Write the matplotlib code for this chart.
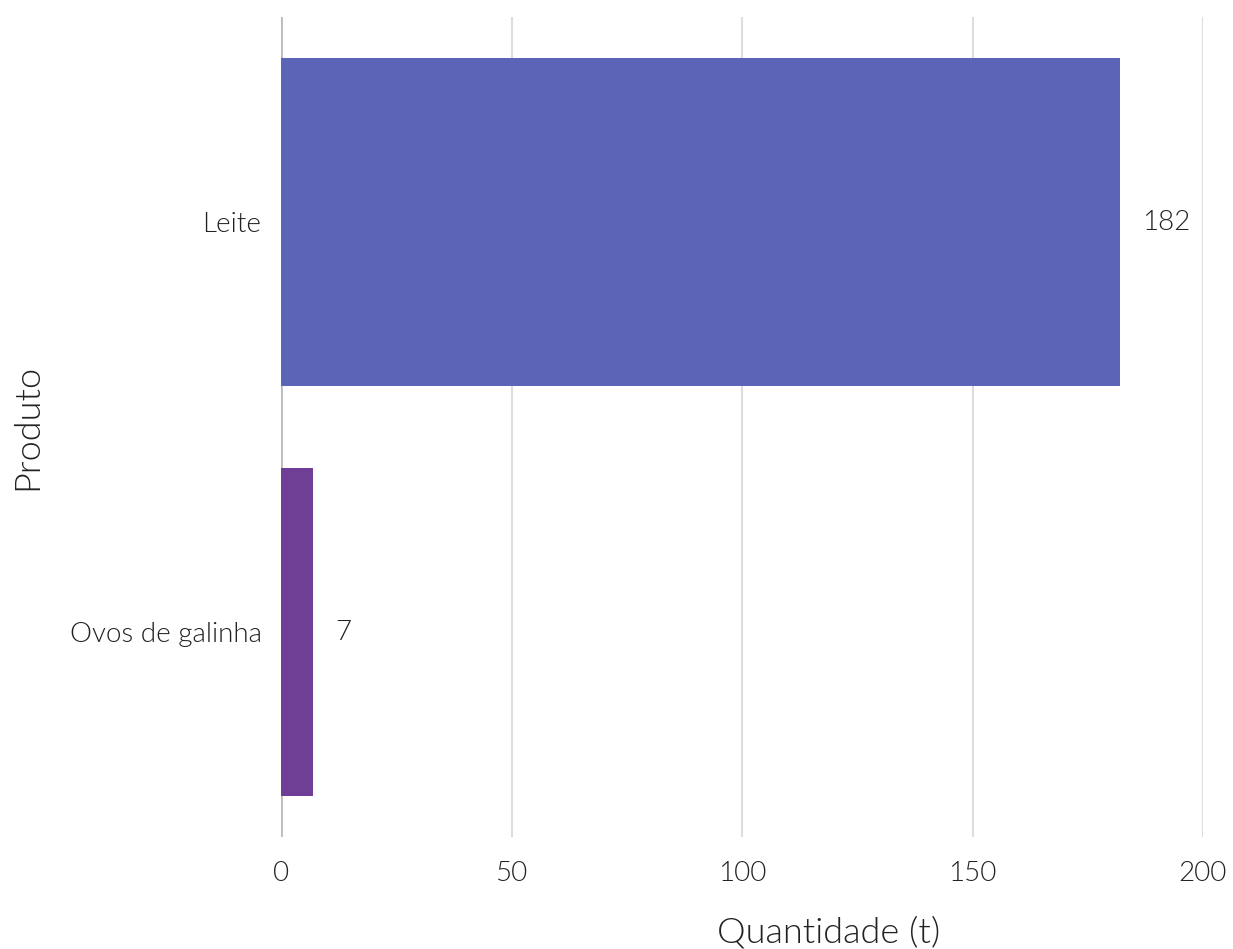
import matplotlib
matplotlib.use('Agg')
import matplotlib.pyplot as plt

# data
produtos = ['Leite', 'Ovos de galinha']
quantidades = [182, 7]
cores = ['#5C64B7', '#6F3F95']

plt.rcParams['font.family'] = ['Lato', 'DejaVu Sans']
plt.rcParams['font.weight'] = 300

fig = plt.figure(figsize=(12.33, 9.49), dpi=100)
ax = fig.add_axes([281 / 1233, 1 - 837 / 949, 922 / 1233, 820 / 949])

ypos = list(range(len(produtos)))
ax.barh(ypos, quantidades, height=0.8, color=cores, zorder=3)
for y, v in zip(ypos, quantidades):
    ax.annotate(f'{v}', xy=(v, y), xytext=(16, 0), textcoords='offset points',
                va='center', ha='left', fontsize=20, fontweight=300,
                color='#222222', zorder=4)

ax.set_xlim(0, 200)
ax.set_ylim(1.5, -0.5)
ax.set_yticks(ypos)
ax.set_yticklabels(produtos)
ax.set_xticks([0, 50, 100, 150, 200])

ax.grid(axis='x', color='#dddddd', linewidth=1.5, zorder=0)
ax.axvline(0, color='#bbbbbb', linewidth=2, zorder=2)
for s in ax.spines.values():
    s.set_visible(False)
ax.tick_params(length=0, labelsize=20, labelcolor='#222222')
ax.tick_params(axis='x', pad=17)
ax.tick_params(axis='y', pad=14)

# the x title sits right of the plot centre in the original
ax.set_xlabel('Quantidade (t)', fontsize=26, fontweight=300, color='#222222',
              labelpad=22, x=0.594)
ax.set_ylabel('Produto', fontsize=26, fontweight=300, color='#222222', labelpad=19)

fig.savefig('out.png', dpi=100)
